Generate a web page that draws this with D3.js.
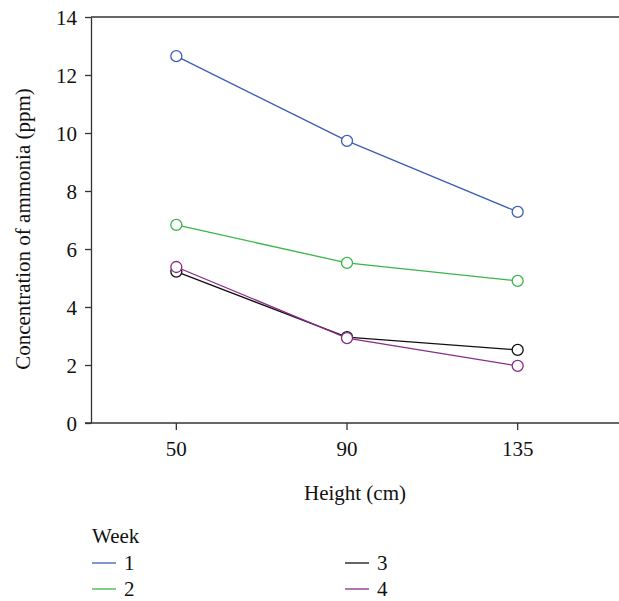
<!DOCTYPE html>
<html>
<head>
<meta charset="utf-8">
<script src="https://cdn.jsdelivr.net/npm/d3@7"></script>
<style>
  body { margin: 0; background: #fff; }
  svg text { font-family: "Liberation Serif", "DejaVu Serif", serif; fill: #111; }
</style>
</head>
<body>
<div id="chart"></div>
<script>
const heights = ['50', '90', '135'];
const weeks = ['1', '2', '3', '4'];
const week1 = [12.65, 9.73, 7.28];
const week2 = [6.83, 5.52, 4.9];
const week3 = [5.22, 2.96, 2.52];
const week4 = [5.38, 2.93, 1.97];
const colors = ['#3c5db4', '#3ab54a', '#111111', '#8a2b8a'];
const yTicks = [0, 2, 4, 6, 8, 10, 12, 14];

const series = [week1, week2, week3, week4].map((vals, i) => ({
    name: weeks[i],
    color: colors[i],
    points: vals.map((v, j) => ({ h: heights[j], v: v }))
}));

const width = 619, height = 601;
const margin = { top: 17, right: 0, bottom: 178, left: 91 };
const fontSize = '21px';

const svg = d3.select('#chart')
    .append('svg')
    .attr('width', width)
    .attr('height', height);

const x = d3.scaleBand()
    .domain(heights)
    .range([margin.left, 603]);

const y = d3.scaleLinear()
    .domain([0, 14])
    .range([height - margin.bottom, margin.top]);

const x0 = y(0);

// top frame line
svg.append('line')
    .attr('x1', margin.left).attr('x2', width)
    .attr('y1', y(14)).attr('y2', y(14))
    .attr('stroke', '#333').attr('stroke-width', 1.3);

// X axis
const xAxis = d3.axisBottom(x).tickSize(7).tickSizeOuter(0);
const gx = svg.append('g')
    .attr('transform', `translate(0,${x0})`)
    .call(xAxis);
gx.attr('font-family', null).attr('font-size', null);
gx.select('.domain').remove();
gx.append('line')
    .attr('x1', margin.left - 6).attr('x2', width)
    .attr('stroke', '#333').attr('stroke-width', 1.3);
gx.selectAll('.tick line').attr('stroke', '#333').attr('stroke-width', 1.3);
gx.selectAll('.tick text')
    .attr('y', 0)
    .attr('dy', 0)
    .attr('transform', 'translate(0,33)')
    .style('font-size', fontSize)
    .attr('fill', '#111');

// Y axis
const yAxis = d3.axisLeft(y).tickValues(yTicks).tickSize(6).tickSizeOuter(0);
const gy = svg.append('g')
    .attr('transform', `translate(${margin.left},0)`)
    .call(yAxis);
gy.attr('font-family', null).attr('font-size', null);
gy.select('.domain').attr('stroke', '#333').attr('stroke-width', 1.3);
gy.selectAll('.tick line').attr('stroke', '#333').attr('stroke-width', 1.3);
gy.selectAll('.tick text')
    .attr('x', -14)
    .attr('dy', '0.34em')
    .style('font-size', fontSize)
    .attr('fill', '#111');

// axis titles
svg.append('text')
    .attr('transform', `translate(30,${(y(0) + y(14)) / 2 + 9}) rotate(-90)`)
    .attr('text-anchor', 'middle')
    .style('font-size', fontSize)
    .text('Concentration of ammonia (ppm)');

svg.append('text')
    .attr('x', 355)
    .attr('y', 500)
    .attr('text-anchor', 'middle')
    .style('font-size', fontSize)
    .text('Height (cm)');

// lines and markers
const line = d3.line()
    .x(d => x(d.h) + x.bandwidth() / 2)
    .y(d => y(d.v));

const gs = svg.selectAll('.series')
    .data(series)
    .enter().append('g')
    .attr('class', 'series');

gs.append('path')
    .attr('d', d => line(d.points))
    .attr('fill', 'none')
    .attr('stroke', d => d.color)
    .attr('stroke-width', 1.3);

gs.each(function (s) {
    d3.select(this).selectAll('circle')
        .data(s.points)
        .enter().append('circle')
        .attr('cx', d => x(d.h) + x.bandwidth() / 2)
        .attr('cy', d => y(d.v))
        .attr('r', 5.5)
        .attr('fill', '#fff')
        .attr('stroke', s.color)
        .attr('stroke-width', 1.3);
});

// legend
const legend = svg.append('g');
legend.append('text')
    .attr('x', 92).attr('y', 543)
    .style('font-size', fontSize)
    .text('Week');

const item = legend.selectAll('.item')
    .data(series)
    .enter().append('g')
    .attr('class', 'item')
    .attr('transform', (d, i) => `translate(${i < 2 ? 92 : 345},${i % 2 === 0 ? 563 : 589})`);

item.append('line')
    .attr('x1', 0).attr('x2', 24)
    .attr('stroke', d => d.color)
    .attr('stroke-width', 1.3);

item.append('text')
    .attr('x', 32).attr('y', 7)
    .style('font-size', fontSize)
    .text(d => d.name);
</script>
</body>
</html>
